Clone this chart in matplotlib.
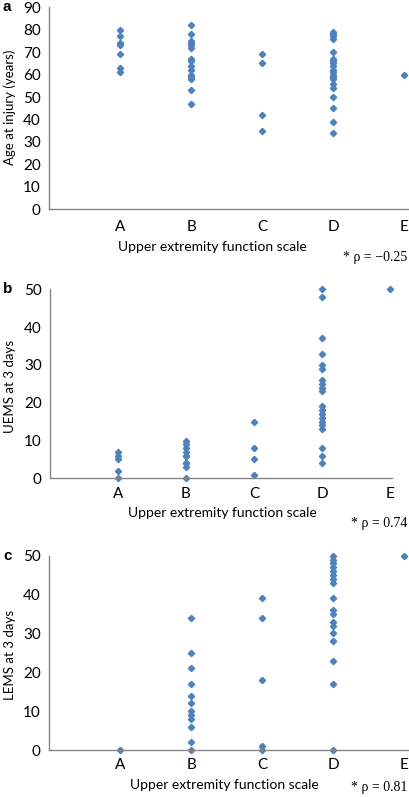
import numpy as np
import matplotlib
matplotlib.use('Agg')
import matplotlib.pyplot as plt

plt.rcParams['font.family'] = ['Lato', 'DejaVu Sans']

categories = ['A', 'B', 'C', 'D', 'E']

# panel a: age at injury
age_a = [80, 77, 74, 73, 69, 63, 61]
age_b = [82, 78, 75, 74, 73, 72, 67, 66, 64, 62, 60, 59, 58, 53, 47]
age_c = [69, 65, 42, 35]
age_d = [79, 78, 77, 76, 70, 67, 66, 65, 64, 62, 61, 60, 59, 58, 56, 54, 50, 45, 39, 34]
age_e = [60]

# panel b: UEMS at 3 days
uems_a = [7, 6, 5, 2, 0]
uems_b = [10, 9, 8, 7, 6, 6, 4, 4, 3, 0]
uems_c = [15, 8, 5, 1]
uems_d = [50, 48, 37, 33, 30, 29, 26, 25, 24, 23, 19, 18, 17, 16, 15, 14, 13, 8, 6, 4]
uems_e = [50]

# panel c: LEMS at 3 days
lems_a = [0]
lems_b = [34, 25, 21, 17, 14, 12, 10, 9, 8, 6, 2, 0]
lems_c = [39, 34, 18, 1, 0]
lems_d = [50, 49, 48, 47, 46, 45, 44, 43, 39, 36, 35, 33, 32, 30, 28, 23, 17, 0]
lems_e = [50]

W, H = 410, 797
BLUE = '#4F81BD'
GREY = '#868686'

fig = plt.figure(figsize=(W / 100, H / 100), dpi=100)


def px_axes(left, right, top, bottom):
    return fig.add_axes([left / W, 1 - bottom / H, (right - left) / W, (bottom - top) / H])


def panel(ax, groups, ymax, ystep, xmax, xpad):
    for i, vals in enumerate(groups):
        ax.plot([i + 1] * len(vals), vals, linestyle='none', marker='D',
                ms=3.2, color=BLUE, mec=BLUE, clip_on=False)
    ax.set_xlim(0, xmax)
    ax.set_ylim(0, ymax)
    ax.set_xticks(range(1, 6))
    ax.set_xticklabels(categories)
    ax.set_yticks(np.arange(0, ymax + 1, ystep))
    for s in ['top', 'right']:
        ax.spines[s].set_visible(False)
    for s in ['left', 'bottom']:
        ax.spines[s].set_color(GREY)
        ax.spines[s].set_linewidth(1.0)
    ax.tick_params(length=0, labelsize=11, colors='black')
    ax.tick_params(axis='x', pad=xpad)
    ax.tick_params(axis='y', pad=6)


ax1 = px_axes(49, 409, 7.3, 209.3)
panel(ax1, [age_a, age_b, age_c, age_d, age_e], 90, 10, 5.07, 8)
ax2 = px_axes(50, 392, 289.3, 478.3)
panel(ax2, [uems_a, uems_b, uems_c, uems_d, uems_e], 50, 10, 5.03, 6)
ax3 = px_axes(49, 409, 555.7, 750)
panel(ax3, [lems_a, lems_b, lems_c, lems_d, lems_e], 50, 10, 5.07, 6)

# panel letters
for lab, y in [('a', 7), ('b', 289), ('c', 556)]:
    fig.text(3 / W, 1 - y / H, lab, fontsize=11, fontweight='bold',
             family=['Liberation Sans'], ha='left', va='center')

# y labels
for lab, y in [('Age at injury (years)', 107), ('UEMS at 3 days', 386), ('LEMS at 3 days', 655)]:
    fig.text(10 / W, 1 - y / H, lab, rotation=90, fontsize=9.5, ha='center', va='center')

# x labels
for x, y in [(212, 247), (222, 513), (224, 785)]:
    fig.text(x / W, 1 - y / H, 'Upper extremity function scale', fontsize=10,
             ha='center', va='center')

# correlation notes
for txt, y in [('* \u03c1 = \u22120.25', 257), ('* \u03c1 = 0.74', 523), ('* \u03c1 = 0.81', 787)]:
    fig.text(407 / W, 1 - y / H, txt, fontsize=10, family=['Liberation Serif'],
             ha='right', va='center')

fig.savefig('out.png', dpi=100)
